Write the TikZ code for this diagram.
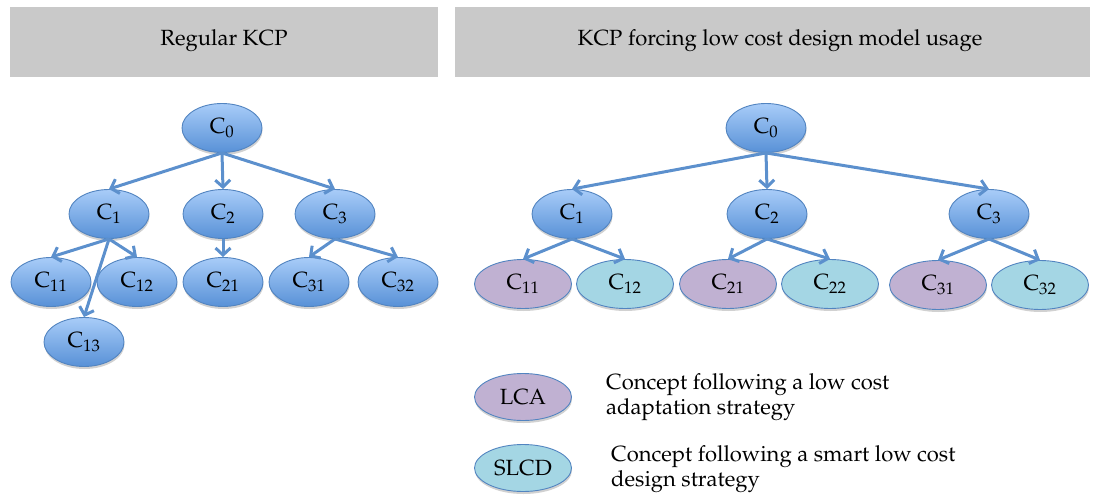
\documentclass[tikz,border=0pt]{standalone}
\usepackage[T1]{fontenc}
\usepackage{mathpazo}
\usetikzlibrary{shapes.geometric,shadows,arrows.meta}
\definecolor{hdr}{RGB}{201,201,201}
\definecolor{btop}{RGB}{168,204,248}
\definecolor{bbot}{RGB}{88,145,215}
\definecolor{bord}{RGB}{82,132,192}
\definecolor{lcac}{RGB}{192,177,210}
\definecolor{slcdc}{RGB}{164,214,228}
\definecolor{edgec}{RGB}{92,144,205}
\begin{document}
\begin{tikzpicture}[x=1pt,y=-1pt,
  hdrbox/.style={fill=hdr, inner sep=0pt, minimum height=67pt,
    drop shadow={opacity=0.3, shadow xshift=0pt, shadow yshift=-3pt, fill=black!70}},
  hdrtext/.style={inner sep=0pt, font=\fontsize{22}{26}\selectfont},
  base/.style={ellipse, draw=bord, line width=0.9pt, inner sep=0pt,
    font=\fontsize{22}{24}\selectfont,
    drop shadow={opacity=0.18, shadow xshift=0.5pt, shadow yshift=-2.5pt, fill=black}},
  bluenode/.style={base, top color=btop, bottom color=bbot, minimum width=80pt, minimum height=49pt},
  lcanode/.style={base, fill=lcac, minimum width=97pt, minimum height=49pt},
  slcdnode/.style={base, fill=slcdc, minimum width=97pt, minimum height=49pt},
  arr/.style={draw=edgec, line width=3pt, -{Straight Barb[length=7pt,width=15pt]}},
  legtext/.style={anchor=west, align=left, inner sep=0pt, font=\fontsize{22}{25}\selectfont}
]
\useasboundingbox (0,0) rectangle (1099,495);

% headers
\node[hdrbox, minimum width=428pt] (h1) at (224,40.5) {};
\node[hdrtext] (h1t) at (224,40.5) {Regular KCP};
\node[hdrbox, minimum width=635pt] (h2) at (772.5,40.5) {};
\node[hdrtext] (h2t) at (780,40.5) {KCP forcing low cost design model usage};

% left tree
\node[bluenode] (L0) at (222,128) {C\textsubscript{0}};
\node[bluenode] (L1) at (109,214) {C\textsubscript{1}};
\node[bluenode] (L2) at (223,214) {C\textsubscript{2}};
\node[bluenode] (L3) at (335,214) {C\textsubscript{3}};
\node[bluenode] (L11) at (51,282) {C\textsubscript{11}};
\node[bluenode] (L12) at (137,282) {C\textsubscript{12}};
\node[bluenode] (L21) at (223,282) {C\textsubscript{21}};
\node[bluenode] (L31) at (309,282) {C\textsubscript{31}};
\node[bluenode] (L32) at (398,282) {C\textsubscript{32}};
\node[bluenode] (L13) at (84,342) {C\textsubscript{13}};

\draw[arr] (L0.south) -- (L1.north);
\draw[arr] (L0.south) -- (L2.north);
\draw[arr] (L0.south) -- (L3.north);
\draw[arr] (L1.south) -- (L11.north);
\draw[arr] (L1.south) -- (L12.north);
\draw[arr] (L1.south) -- (L13.north);
\draw[arr] (L2.south) -- (L21.north);
\draw[arr] (L3.south) -- (L31.north);
\draw[arr] (L3.south) -- (L32.north);

% right tree
\node[bluenode] (R0) at (766,128) {C\textsubscript{0}};
\node[bluenode] (R1) at (572,214) {C\textsubscript{1}};
\node[bluenode] (R2) at (767,214) {C\textsubscript{2}};
\node[bluenode] (R3) at (989,214) {C\textsubscript{3}};
\node[lcanode] (R11) at (523,284) {C\textsubscript{11}};
\node[slcdnode] (R12) at (625,284) {C\textsubscript{12}};
\node[lcanode] (R21) at (728,284) {C\textsubscript{21}};
\node[slcdnode] (R22) at (830,284) {C\textsubscript{22}};
\node[lcanode] (R31) at (938,285) {C\textsubscript{31}};
\node[slcdnode] (R32) at (1040,285) {C\textsubscript{32}};

\draw[arr] (R0.south) -- (R1.north);
\draw[arr] (R0.south) -- (R2.north);
\draw[arr] (R0.south) -- (R3.north);
\draw[arr] (R1.south) -- (R11.north);
\draw[arr] (R1.south) -- (R12.north);
\draw[arr] (R2.south) -- (R21.north);
\draw[arr] (R2.south) -- (R22.north);
\draw[arr] (R3.south) -- (R31.north);
\draw[arr] (R3.south) -- (R32.north);

% legend
\node[lcanode, minimum height=47pt] (LCA) at (523,397) {LCA};
\node[slcdnode, minimum height=47pt] (SLCD) at (523,468) {SLCD};
\node[legtext] (t1) at (606,397) {Concept following a low cost\\adaptation strategy};
\node[legtext] (t2) at (611,469) {Concept following a smart low cost\\design strategy};
\end{tikzpicture}
\end{document}
